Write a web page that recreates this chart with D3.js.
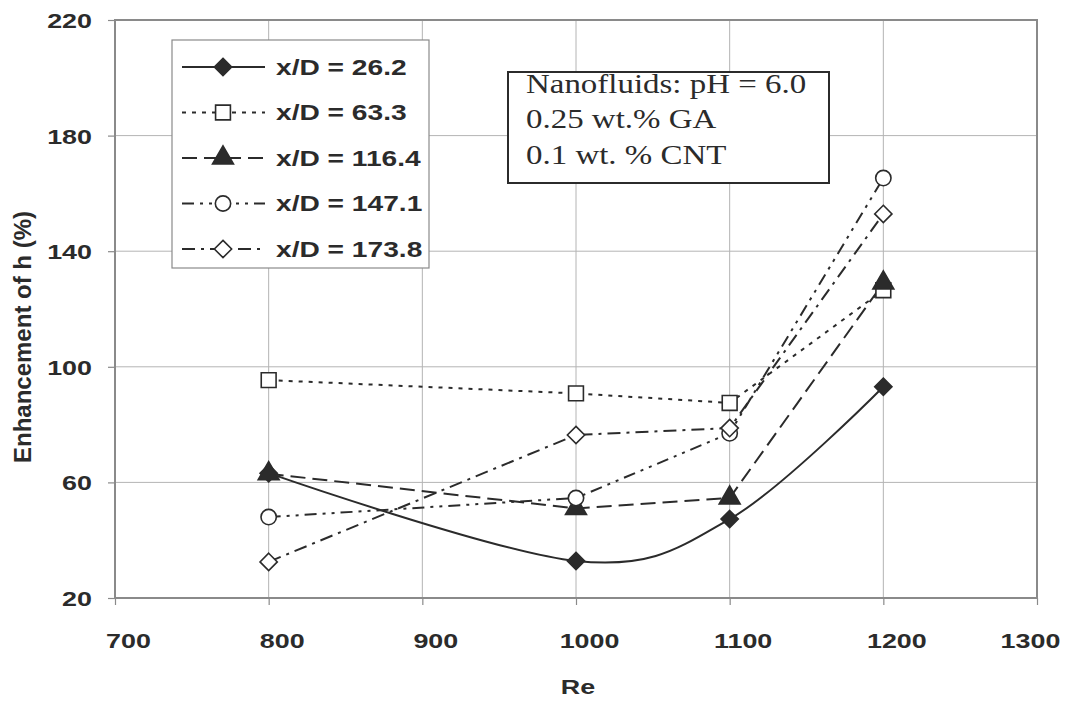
<!DOCTYPE html>
<html>
<head>
<meta charset="utf-8">
<script src="https://cdn.jsdelivr.net/npm/d3@7"></script>
<style>
  html, body { margin: 0; padding: 0; background: #fff; }
  svg { display: block; }
</style>
</head>
<body>
<svg id="chart" width="1074" height="701"></svg>
<script>
// Reynolds numbers on the x axis
const reValues = [800, 1000, 1100, 1200];

// Enhancement of h (%) for each axial position x/D
const seriesNames = ["x/D = 26.2", "x/D = 63.3", "x/D = 116.4", "x/D = 147.1", "x/D = 173.8"];
const xd262  = [63.2, 32.8, 47.3, 93.1];
const xd633  = [95.4, 90.8, 87.5, 126.5];
const xd1164 = [63.0, 51.0, 54.6, 129.0];
const xd1471 = [48.0, 54.6, 77.0, 165.3];
const xd1738 = [32.5, 76.4, 78.8, 152.9];

const xTicks = [700, 800, 900, 1000, 1100, 1200, 1300];
const yTicks = [20, 60, 100, 140, 180, 220];

const noteLines = ["Nanofluids: pH = 6.0", "0.25 wt.% GA", "0.1 wt. % CNT"];

const xTitle = "Re";
const yTitle = "Enhancement of h (%)";

// ---- layout ----
const W = 1074, H = 701;
const plot = { left: 115, right: 1037, top: 20, bottom: 598 };
const ink = "#2b2b2b";
const sx = 1.28; // horizontal widening of the sans-serif lettering

const svg = d3.select("#chart");

const x = d3.scaleLinear().domain([700, 1300]).range([plot.left, plot.right]);
const y = d3.scaleLinear().domain([20, 220]).range([plot.bottom, plot.top]);

// gridlines
const grid = svg.append("g").attr("stroke", "#b4b4b4").attr("stroke-width", 1);
grid.selectAll("line.v").data(xTicks.slice(1, -1)).join("line")
  .attr("x1", d => x(d)).attr("x2", d => x(d))
  .attr("y1", plot.top).attr("y2", plot.bottom);
grid.selectAll("line.h").data(yTicks.slice(1, -1)).join("line")
  .attr("y1", d => y(d)).attr("y2", d => y(d))
  .attr("x1", plot.left).attr("x2", plot.right);

// plot frame
svg.append("rect")
  .attr("x", plot.left).attr("y", plot.top)
  .attr("width", plot.right - plot.left).attr("height", plot.bottom - plot.top)
  .attr("fill", "none").attr("stroke", "#8a8a8a").attr("stroke-width", 2);

// axes
const fmt = d3.format("d");
const yAxis = svg.append("g")
  .attr("transform", `translate(${plot.left},0)`)
  .call(d3.axisLeft(y).tickValues(yTicks).tickFormat(fmt).tickSize(7).tickSizeOuter(0));
const xAxis = svg.append("g")
  .attr("transform", `translate(0,${plot.bottom})`)
  .call(d3.axisBottom(x).tickValues(xTicks).tickFormat(fmt).tickSize(7).tickSizeOuter(0));

[xAxis, yAxis].forEach(g => {
  g.select(".domain").remove();
  g.selectAll(".tick line").attr("stroke", "#8a8a8a").attr("stroke-width", 1.2);
  g.selectAll(".tick text")
    .attr("fill", ink)
    .attr("font-family", "Liberation Sans, Arial, sans-serif")
    .attr("font-weight", "bold")
    .attr("font-size", 21);
});

yAxis.selectAll(".tick text")
  .attr("x", -23 / sx).attr("dy", "0.36em")
  .attr("transform", `scale(${sx},1)`);

xAxis.selectAll(".tick text")
  .attr("y", 42).attr("dy", "0.36em")
  .attr("x", d => {
    const cx = Math.min(x(d) + 13, W - 44);
    return (cx - x(d)) / sx;
  })
  .attr("transform", `scale(${sx},1)`);

// axis titles
svg.append("text")
  .attr("transform", `translate(${x(1000) + 2},${686}) scale(${sx},1)`)
  .attr("text-anchor", "middle").attr("dy", "0.36em")
  .attr("font-family", "Liberation Sans, Arial, sans-serif")
  .attr("font-weight", "bold").attr("font-size", 21).attr("fill", ink)
  .text(xTitle);

svg.append("text")
  .attr("transform", `translate(22,${337}) rotate(-90)`)
  .attr("text-anchor", "middle").attr("dy", "0.36em")
  .attr("font-family", "Liberation Sans, Arial, sans-serif")
  .attr("font-weight", "bold").attr("font-size", 24).attr("fill", ink)
  .text(yTitle);

// ---- series ----
// only the first series is drawn as a smoothed curve; the others join points straight
const series = [
  { name: seriesNames[0], values: xd262,  dash: null,           marker: "diamond",  filled: true,  smooth: true },
  { name: seriesNames[1], values: xd633,  dash: "4 6",          marker: "square",   filled: false, smooth: false },
  { name: seriesNames[2], values: xd1164, dash: "15 7",         marker: "triangle", filled: true,  smooth: false },
  { name: seriesNames[3], values: xd1471, dash: "12 6 3 6 3 6", marker: "circle",   filled: false, smooth: false },
  { name: seriesNames[4], values: xd1738, dash: "13 6 3 6",     marker: "diamond",  filled: false, smooth: false }
];

const markerSize = { diamond: 190, square: 220, triangle: 190, circle: 185 };
const markerType = {
  diamond: d3.symbolDiamond2 ? d3.symbolDiamond2 : d3.symbolDiamond,
  square: d3.symbolSquare,
  triangle: d3.symbolTriangle,
  circle: d3.symbolCircle
};

function markerPath(s) {
  return d3.symbol().type(markerType[s.marker]).size(markerSize[s.marker])();
}

const smoothLine = d3.line()
  .x(d => x(d.re)).y(d => y(d.v))
  .curve(d3.curveCardinal.tension(0));
const straightLine = d3.line()
  .x(d => x(d.re)).y(d => y(d.v));

const lines = svg.append("g");
series.forEach(s => {
  const pts = reValues.map((re, i) => ({ re, v: s.values[i] }));
  lines.append("path")
    .datum(pts)
    .attr("d", s.smooth ? smoothLine : straightLine)
    .attr("fill", "none")
    .attr("stroke", ink)
    .attr("stroke-width", 2)
    .attr("stroke-dasharray", s.dash);
});

const marks = svg.append("g");
series.forEach(s => {
  const pts = reValues.map((re, i) => ({ re, v: s.values[i] }));
  marks.selectAll(null).data(pts).join("path")
    .attr("transform", d => `translate(${x(d.re)},${y(d.v)})`)
    .attr("d", markerPath(s))
    .attr("fill", s.filled ? ink : "#fff")
    .attr("stroke", ink)
    .attr("stroke-width", 1.6);
});

// ---- legend ----
const legend = svg.append("g");
legend.append("rect")
  .attr("x", 172).attr("y", 40).attr("width", 257).attr("height", 228)
  .attr("fill", "#fff").attr("stroke", "#8a8a8a").attr("stroke-width", 1.2);

const rowY = i => 67 + i * 45.5;
series.forEach((s, i) => {
  const ry = rowY(i);
  legend.append("line")
    .attr("x1", 182).attr("x2", 265).attr("y1", ry).attr("y2", ry)
    .attr("stroke", ink).attr("stroke-width", 2)
    .attr("stroke-dasharray", s.dash);
  legend.append("path")
    .attr("transform", `translate(223,${ry})`)
    .attr("d", markerPath(s))
    .attr("fill", s.filled ? ink : "#fff")
    .attr("stroke", ink).attr("stroke-width", 1.6);
  legend.append("text")
    .attr("transform", `translate(276,${ry}) scale(${sx},1)`)
    .attr("dy", "0.36em")
    .attr("font-family", "Liberation Sans, Arial, sans-serif")
    .attr("font-weight", "bold").attr("font-size", 22).attr("fill", ink)
    .text(s.name);
});

// ---- annotation box ----
const note = svg.append("g");
note.append("rect")
  .attr("x", 508).attr("y", 72).attr("width", 321).attr("height", 111)
  .attr("fill", "#fff").attr("stroke", ink).attr("stroke-width", 2);
noteLines.forEach((t, i) => {
  note.append("text")
    .attr("transform", `translate(526,${83 + i * 35.5}) scale(1.22,1)`)
    .attr("dy", "0.36em")
    .attr("font-family", "Liberation Serif, Times New Roman, serif")
    .attr("font-size", 27).attr("fill", ink)
    .text(t);
});
</script>
</body>
</html>
